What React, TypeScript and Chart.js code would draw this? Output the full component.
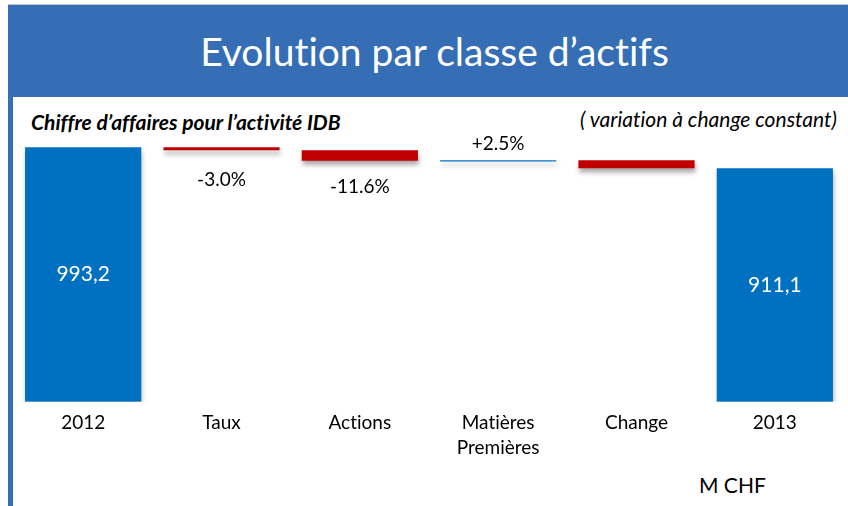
import React, { useEffect, useRef } from "react";
import { Chart, registerables } from "chart.js";

Chart.register(...registerables);

const categories: (string | string[])[] = ["2012", "Taux", "Actions", ["Matières", "Premières"], "Change", "2013"];
const barLows = [0, 981.5, 940.5, 937, 911.1, 0];
const barHighs = [993.2, 993.2, 981.5, 942, 942, 911.1];
const barColors = ["#0070C0", "#C00000", "#C00000", "#0070C0", "#C00000", "#0070C0"];
const totalLabels = ["993,2", "", "", "", "", "911,1"];
const deltaLabels = ["", "-3.0%", "-11.6%", "+2.5%", "", ""];
const deltaBelow = [false, true, true, false, false, false];

const FONT = "Lato, 'Open Sans', sans-serif";

const shadowPlugin = {
  id: "barShadow",
  beforeDatasetsDraw(chart: any) {
    const ctx = chart.ctx;
    ctx.save();
    ctx.shadowColor = "rgba(0,0,0,0.35)";
    ctx.shadowOffsetX = 1;
    ctx.shadowOffsetY = 4;
    ctx.shadowBlur = 5;
  },
  afterDatasetsDraw(chart: any) {
    chart.ctx.restore();
  },
};

const labelPlugin = {
  id: "barLabels",
  afterDraw(chart: any) {
    const ctx = chart.ctx;
    const meta = chart.getDatasetMeta(0);
    ctx.save();
    ctx.textAlign = "center";
    ctx.textBaseline = "middle";
    meta.data.forEach((bar: any, i: number) => {
      const top = Math.min(bar.y, bar.base);
      const bottom = Math.max(bar.y, bar.base);
      if (totalLabels[i]) {
        ctx.fillStyle = "#ffffff";
        ctx.font = `21px ${FONT}`;
        ctx.fillText(totalLabels[i], bar.x, (top + bottom) / 2);
      }
      if (deltaLabels[i]) {
        ctx.fillStyle = "#000000";
        ctx.font = `19px ${FONT}`;
        const y = deltaBelow[i] ? bottom + (i === 1 ? 30 : 26) : top - 16;
        ctx.fillText(deltaLabels[i], bar.x, y);
      }
    });
    ctx.restore();
  },
};

export default function App() {
  const ref = useRef<HTMLCanvasElement>(null);
  useEffect(() => {
    if (!ref.current) return;
    const chart = new Chart(ref.current, {
      type: "bar",
      data: {
        labels: categories as any,
        datasets: [
          {
            data: barLows.map((lo, i) => [lo, barHighs[i]]) as any,
            backgroundColor: barColors,
            borderWidth: 0,
            categoryPercentage: 1,
            barPercentage: 0.84,
          },
        ],
      },
      options: {
        animation: false,
        responsive: false,
        devicePixelRatio: 1,
        layout: { padding: { top: 7, left: 0, right: 0, bottom: 0 } },
        plugins: { legend: { display: false }, tooltip: { enabled: false }, title: { display: false } },
        scales: {
          x: {
            grid: { display: false, drawTicks: false },
            border: { display: false },
            ticks: {
              color: "#000000",
              font: { family: FONT, size: 19, lineHeight: 1.32 },
              padding: 8,
              maxRotation: 0,
              autoSkip: false,
            },
          },
          y: { display: false, min: 0, max: 1150 },
        },
      },
      plugins: [shadowPlugin, labelPlugin],
    });
    return () => chart.destroy();
  }, []);

  return (
    <div style={{ position: "absolute", left: 0, top: 0, width: 848, height: 506, background: "#ffffff", overflow: "hidden", fontFamily: FONT, fontVariantLigatures: "none" }}>
      <div style={{ position: "absolute", left: 8, top: 4, width: 840, height: 1, background: "#b7c6dc" }} />
      <div style={{ position: "absolute", left: 8, top: 5, width: 840, height: 501, background: "#356EB5" }} />
      <div style={{ position: "absolute", left: 13, top: 97, width: 835, height: 409, background: "#ffffff" }} />
      <div style={{ position: "absolute", left: 9, top: 5, width: 839, height: 92, display: "flex", alignItems: "center", justifyContent: "center", color: "#ffffff", fontSize: 39, lineHeight: 1 }}>
        <span style={{ marginLeft: 12 }}>Evolution par classe d’actifs</span>
      </div>
      <div style={{ position: "absolute", left: 31, top: 109, fontSize: 21, fontWeight: 700, fontStyle: "italic", color: "#000", whiteSpace: "nowrap" }}>
        Chiffre d’affaires pour l’activité IDB
      </div>
      <div style={{ position: "absolute", left: 580, top: 106, fontSize: 21, fontStyle: "italic", color: "#000", whiteSpace: "nowrap" }}>
        ( variation à change constant)
      </div>
      <canvas ref={ref} width={830} height={368} style={{ position: "absolute", left: 14, top: 100, width: 830, height: 368 }} />
      <div style={{ position: "absolute", left: 699, top: 472, fontSize: 21, color: "#000", whiteSpace: "nowrap" }}>M CHF</div>
    </div>
  );
}
